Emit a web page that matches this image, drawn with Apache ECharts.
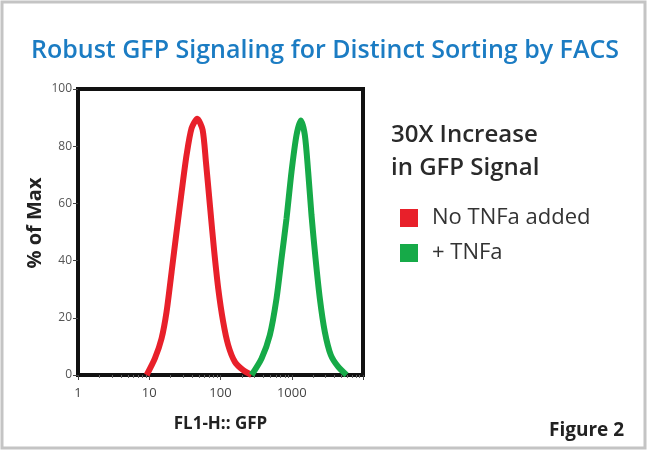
<!DOCTYPE html>
<html><head><meta charset="utf-8">
<script src="https://cdn.jsdelivr.net/npm/echarts@6/dist/echarts.min.js"></script>
<style>html,body{margin:0;padding:0;background:#fff}#c{width:650px;height:455px}</style>
</head><body><div id="c"></div>
<script>
// FL1-H GFP intensity (log scale) vs % of Max
const noTnfX = [9.2, 12.0, 14.9, 17.5, 20.6, 24.2, 28.5, 33.4, 39.3, 47.2, 56.1, 62.4, 71, 80.8, 92.9, 109, 128, 159, 208, 273];
const noTnfY = [0, 5.8, 12.8, 22.1, 36.1, 50.1, 64.1, 76.9, 86.3, 89.6, 85.7, 74.6, 59.4, 44.3, 30.3, 18.6, 10.5, 4.6, 1.7, 0];
const tnfX = [273, 377, 493, 612, 719, 845, 993, 1167, 1341, 1526, 1700, 1893, 2155, 2477, 2911, 3533, 4476, 5867];
const tnfY = [0, 5.8, 14, 26.8, 40.8, 54.8, 71.1, 83.9, 89.0, 83.9, 71.1, 55.9, 40.8, 26.8, 15.1, 7, 2.9, 0];
const seriesNames = ['No TNFa added', '+ TNFa'];
const xTicks = [1, 10, 100, 1000];
const yTicks = [0, 20, 40, 60, 80, 100];

const zip = (xs, ys) => xs.map((x, i) => [x, ys[i]]);
const chart = echarts.init(document.getElementById('c'));
const font = '"Open Sans", "Liberation Sans", sans-serif';
chart.setOption({
  animation: false,
  textStyle: { fontFamily: font },
  title: {
    text: 'Robust GFP Signaling for Distinct Sorting by FACS',
    left: 'center', top: 33,
    textStyle: { color: '#1b7cc3', fontSize: 25, fontWeight: 600, fontFamily: font }
  },
  legend: {
    orient: 'vertical', left: 395, top: 202,
    itemWidth: 18, itemHeight: 18, itemGap: 13, icon: 'rect',
    data: seriesNames,
    textStyle: { color: '#333', fontSize: 22, lineHeight: 18, padding: [0, 0, 0, 9], fontFamily: font }
  },
  grid: { left: 78, top: 89, width: 285, height: 286, show: true, borderColor: '#111', borderWidth: 4, backgroundColor: 'transparent' },
  xAxis: {
    type: 'log', logBase: 10, min: 1, max: 10000,
    name: 'FL1-H:: GFP', nameLocation: 'middle', nameGap: 41,
    nameTextStyle: { color: '#222', fontSize: 17, fontWeight: 'bold' },
    axisLine: { lineStyle: { color: '#111', width: 4 } },
    axisTick: { show: true, length: 5, lineStyle: { color: '#444' } },
    minorTick: { show: true, splitNumber: 9, length: 3, lineStyle: { color: '#666' } },
    splitLine: { show: false },
    axisLabel: { color: '#444', fontSize: 13, margin: 12, showMaxLabel: false,
      formatter: v => (xTicks.indexOf(v) >= 0 ? String(v) : '') }
  },
  yAxis: {
    type: 'value', min: 0, max: 100, interval: 20,
    name: '% of Max', nameLocation: 'middle', nameGap: 33, nameRotate: 90,
    nameTextStyle: { color: '#222', fontSize: 20, fontWeight: 'bold', padding: [0, 0, 0, 18] },
    axisLine: { show: true, lineStyle: { color: '#111', width: 4 } },
    axisTick: { show: true, length: 5, lineStyle: { color: '#444' } },
    splitLine: { show: false },
    axisLabel: { color: '#555', fontSize: 12, margin: 6,
      formatter: v => (yTicks.indexOf(v) >= 0 ? String(v) : '') }
  },
  graphic: [
    { type: 'rect', shape: { x: 2, y: 2, width: 643, height: 446 }, style: { fill: 'none', stroke: '#c4c4c4', lineWidth: 3 }, silent: true },
    { type: 'text', left: 391, top: 119, style: { text: '30X Increase\nin GFP Signal', fill: '#2a2a2a', font: '600 24px ' + font, lineHeight: 33 } },
    { type: 'text', left: 549, top: 421, style: { text: 'Figure 2', fill: '#222', font: 'bold 19px ' + font } }
  ],
  series: [
    { name: seriesNames[0], type: 'line', data: zip(noTnfX, noTnfY), smooth: 0.25, showSymbol: false,
      lineStyle: { color: '#e8202a', width: 6 }, itemStyle: { color: '#e8202a' } },
    { name: seriesNames[1], type: 'line', data: zip(tnfX, tnfY), smooth: 0.25, showSymbol: false,
      lineStyle: { color: '#16aa48', width: 6 }, itemStyle: { color: '#16aa48' } }
  ]
});
</script></body></html>
